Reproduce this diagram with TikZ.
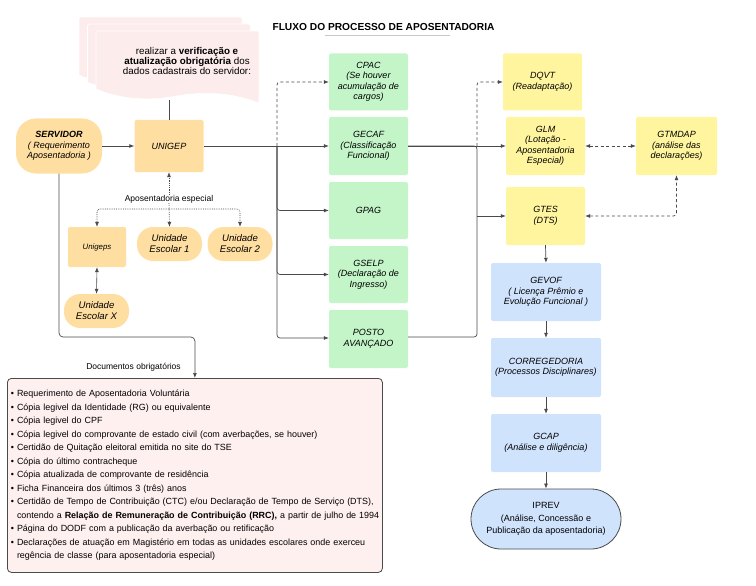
\documentclass[tikz,border=0pt]{standalone}
\usepackage{fontspec}
\setmainfont{Liberation Sans}
\usetikzlibrary{arrows.meta}

\definecolor{laranja}{HTML}{FFDFA1}
\definecolor{verde}{HTML}{C4F5C8}
\definecolor{amarelo}{HTML}{FFF59F}
\definecolor{azul}{HTML}{D0E3FD}
\definecolor{rosa}{HTML}{FDECEC}
\definecolor{rosadoc}{HTML}{FFF0F0}
\definecolor{linha}{HTML}{4A4A4A}

\tikzset{
  caixa/.style={rectangle, rounded corners=2pt, inner sep=1pt, align=center,
    font=\fontsize{9}{10.5}\selectfont\itshape},
  cxverde/.style={caixa, fill=verde, minimum width=79pt, minimum height=57pt},
  cxamarela/.style={caixa, fill=amarelo, minimum width=79pt, minimum height=58pt},
  cxazul/.style={caixa, fill=azul, minimum width=110pt, minimum height=58pt},
  cxlaranja/.style={caixa, fill=laranja},
  pilula/.style={caixa, fill=laranja, rounded corners=16pt, minimum width=65pt,
    minimum height=34pt, font=\fontsize{9.6}{11}\selectfont\itshape},
  fio/.style={draw=linha, line width=0.7pt},
  seta/.style={fio, -{Latex[length=5pt,width=4pt]}},
  seta2/.style={fio, {Latex[length=5pt,width=4pt]}-{Latex[length=5pt,width=4pt]}},
  tracejada/.style={seta, dash pattern=on 3pt off 2.5pt},
  tracejada2/.style={seta2, dash pattern=on 3pt off 2.5pt},
  pontilhada/.style={seta, line width=0.6pt, dash pattern=on 0.8pt off 1pt},
  rotulo/.style={inner sep=0pt, font=\fontsize{8.5}{10}\selectfont},
}

\begin{document}
\begin{tikzpicture}[x=1pt, y=-1pt]
  \useasboundingbox (0,0) rectangle (756,586);

  % titulo
  \node[inner sep=0pt, font=\fontsize{10.2}{11}\selectfont\bfseries] (titulo) at (383.5,27) {FLUXO DO PROCESSO DE APOSENTADORIA};
  \draw[black!22, line width=0.8pt] (325,35.5) -- (450,35.5);

  % folhas com a nota de verificacao
  \foreach \dx/\dy in {-17/-14, -8.5/-7, 0/0} {
    \filldraw[fill=rosa, draw=white, line width=0.6pt, shift={(\dx,\dy)}]
      (96,89) -- (96,33) [rounded corners=2pt] -- (96,31) -- (259,31) -- (259,103)
      [sharp corners] .. controls (232,93) and (205,91) .. (177,96)
      .. controls (150,101) and (122,100) .. (96,89) -- cycle;
  }
  \node[inner sep=0pt, align=center, font=\fontsize{9.8}{10.3}\selectfont] (nota) at (187,61)
    {realizar a \textbf{verificação e}\\\textbf{atualização obrigatória} dos\\dados cadastrais do servidor:};
  \coordinate (notabase) at (169,100);

  % lado esquerdo
  \node[cxlaranja, rounded corners=20pt, minimum width=86pt, minimum height=55pt] (servidor) at (59,146)
    {\textbf{SERVIDOR}\\( Requerimento\\Aposentadoria )};
  \node[cxlaranja, minimum width=69pt, minimum height=52pt] (unigep) at (169,146) {UNIGEP};
  \node[rotulo] (apesp) at (169,199) {Aposentadoria especial};
  \coordinate (esp) at (169,209);
  \node[cxlaranja, minimum width=58pt, minimum height=40pt, font=\fontsize{7.8}{9}\selectfont\itshape] (unigeps) at (97,247) {Unigeps};
  \node[pilula] (ue1) at (169.5,244) {Unidade\\Escolar 1};
  \node[pilula] (ue2) at (240,244) {Unidade\\Escolar 2};
  \node[pilula] (uex) at (96.5,311) {Unidade\\Escolar X};

  % coluna verde
  \node[cxverde] (cpac) at (368.5,82) {CPAC\\(Se houver\\acumulação de\\cargos)};
  \node[cxverde, minimum height=58pt] (gecaf) at (368.5,146) {GECAF\\(Classificação\\Funcional)};
  \node[cxverde] (gpag) at (368.5,210.5) {GPAG};
  \node[cxverde] (gselp) at (368.5,274.5) {GSELP\\(Declaração de\\Ingresso)};
  \node[cxverde, minimum height=58pt] (posto) at (368.5,339) {POSTO\\AVANÇADO};

  % coluna amarela
  \node[cxamarela, minimum height=57pt] (dqvt) at (542.5,82) {DQVT\\(Readaptação)};
  \node[cxamarela] (glm) at (545.5,146) {GLM\\(Lotação -\\Aposentadoria\\Especial)};
  \node[cxamarela, minimum width=81pt] (gtmdap) at (676.5,146) {GTMDAP\\(análise das\\declarações)};
  \node[cxamarela] (gtes) at (545.5,216) {GTES\\(DTS)};

  % coluna azul
  \node[cxazul] (gevof) at (546,292) {GEVOF\\( Licença Prêmio e\\Evolução Funcional )};
  \node[cxazul, minimum height=59pt] (corregedoria) at (546,367.5) {CORREGEDORIA\\(Processos Disciplinares)};
  \node[cxazul] (gcap) at (546,443) {GCAP\\(Análise  e diligência)};
  \node[caixa, fill=azul, draw=linha, line width=0.8pt, rounded corners=30pt, minimum width=150pt,
    minimum height=60pt, font=\fontsize{9}{12.8}\selectfont] (iprev) at (546,519)
    {IPREV\\(Análise, Concessão e\\Publicação da aposentadoria)};

  % documentos obrigatorios
  \node[rotulo] (docrot) at (133.5,367) {Documentos obrigatórios};
  \node[draw=linha, fill=rosadoc, line width=0.8pt, rounded corners=4pt, anchor=north west,
    minimum width=375pt, minimum height=194pt, text width=368pt, inner xsep=3.5pt, inner ysep=2pt,
    align=left, font=\fontsize{8.95}{13.5}\selectfont] (docs) at (7,378)
    {• Requerimento de Aposentadoria Voluntária\\
     • Cópia legivel da Identidade (RG) ou equivalente\\
     • Cópia legivel do CPF\\
     • Cópia legivel do comprovante de estado civil (com averbações, se houver)\\
     • Certidão de Quitação eleitoral emitida no site do TSE\\
     • Cópia do último contracheque\\
     • Cópia atualizada de comprovante de residência\\
     • Ficha Financeira dos últimos 3 (três) anos\\
     • Certidão de Tempo de Contribuição (CTC) e/ou Declaração de Tempo de Serviço (DTS),\\
     \mbox{\phantom{• }contendo a  \textbf{Relação de Remuneração de Contribuição (RRC),} a partir de julho de 1994}\\
     • Página do DODF com a publicação da averbação ou retificação\\
     • Declarações de atuação em Magistério em todas as unidades escolares onde exerceu\\
     \phantom{• }regência de classe (para aposentadoria especial)};

  % ligacoes da esquerda
  \draw[fio] (notabase) -- (unigep.north);
  \draw[seta] (servidor.east) -- (unigep.west);
  \draw[pontilhada] (apesp.north) -- (unigep.south);
  \draw[pontilhada] (apesp.south) -- (ue1.north);
  \draw[pontilhada, rounded corners=3pt] (esp) -| (unigeps.north);
  \draw[pontilhada, rounded corners=3pt] (esp) -| (ue2.north);
  \draw[seta2, line width=0.6pt] (unigeps.south) -- (uex.north);
  \coordinate (docdobra) at (59,337);
  \draw[seta, rounded corners=4pt] (servidor.south) -- (docdobra) -| (docs.north);

  % UNIGEP para a coluna verde
  \coordinate (ramo) at (277,146);
  \draw[seta] (unigep.east) -- (gecaf.west);
  \draw[tracejada, rounded corners=3pt] (ramo) |- (cpac.west);
  \draw[seta, rounded corners=3pt] (ramo) |- (gpag.west);
  \draw[seta, rounded corners=3pt] (ramo) |- (gselp.west);
  \draw[seta, rounded corners=3pt] (ramo) |- (posto.west |- 0,338);

  % coluna verde para a amarela
  \coordinate (chave) at (477,146);
  \coordinate (chavemeio) at (477,216);
  \draw[seta] (gecaf.east) -- (glm.west);
  \draw[fio, rounded corners=3pt] (posto.east |- 0,337) -| (chavemeio) |- (gecaf.east);
  \draw[seta] (chavemeio) -- (gtes.west);
  \draw[tracejada, rounded corners=3pt] (chave) |- (dqvt.west);
  \draw[tracejada2] (glm.east) -- (gtmdap.west);
  \draw[tracejada2, rounded corners=3pt] (gtes.east) -| (gtmdap.south);

  % coluna azul
  \draw[seta] (gtes.south) -- (gevof.north);
  \draw[seta] (gevof.south) -- (corregedoria.north);
  \draw[seta] (corregedoria.south) -- (gcap.north);
  \draw[seta] (gcap.south) -- (iprev.north);
\end{tikzpicture}
\end{document}
